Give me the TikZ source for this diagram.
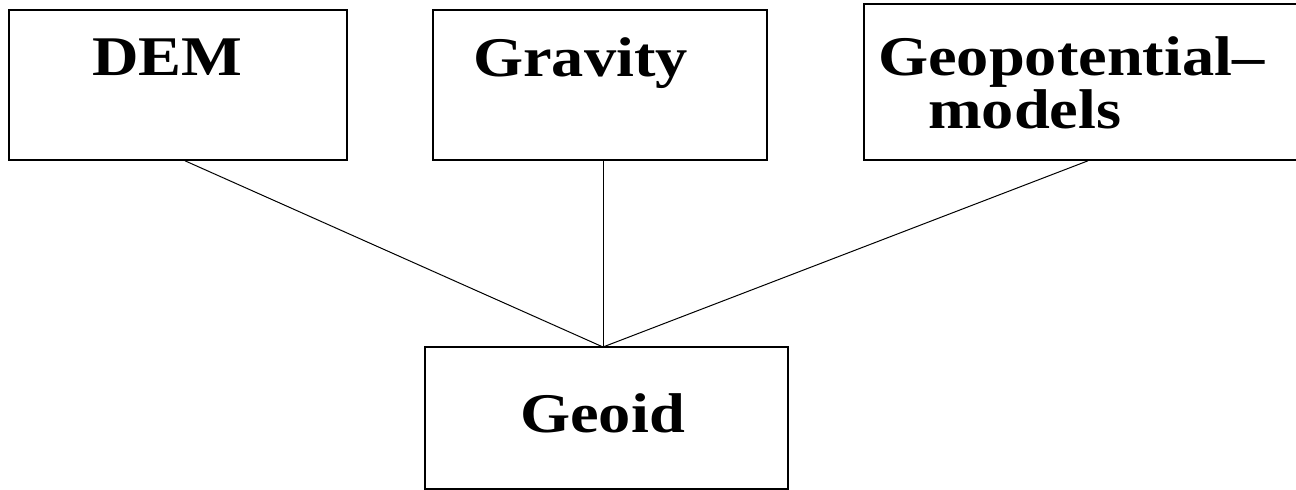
\documentclass[tikz,border=0pt]{standalone}
\usepackage{fontspec}
\newfontfamily\boxfont{Liberation Serif}[FakeStretch=1.15]
\begin{document}
\begin{tikzpicture}[x=1pt,y=-1pt,
  box/.style={draw=black,line width=1.6pt,rectangle,inner sep=0pt},
  lbl/.style={anchor=base west,inner sep=0pt,font=\boxfont\bfseries\fontsize{56}{48}\selectfont},
  link/.style={draw=black,line width=1pt}]
\useasboundingbox[fill=white] (0,0) rectangle (1296,490);
% boxes
\node[box,minimum width=338pt,minimum height=150pt] (dem) at (178,85) {};
\node[box,minimum width=334pt,minimum height=150pt] (grav) at (600,85) {};
\node[box,minimum width=440pt,minimum height=156pt] (geop) at (1084,82) {};
\node[box,minimum width=363pt,minimum height=142pt] (geoid) at (606.5,418) {};
% texts
\node[lbl] (demt) at (92,75) {DEM};
\node[lbl] (gravt) at (473,76) {Gravity};
\node[lbl] (geopt1) at (878,75) {Geopotential–};
\node[lbl] (geopt2) at (928,128) {models};
\node[lbl] (geoidt) at (520,432) {Geoid};
% connectors
\coordinate (hub) at (603,347);
\draw[link] ([xshift=7pt]dem.south) -- (hub);
\draw[link] ([xshift=3pt]grav.south) -- (hub);
\draw[link] ([xshift=4pt]geop.south) -- (hub);
\end{tikzpicture}
\end{document}
